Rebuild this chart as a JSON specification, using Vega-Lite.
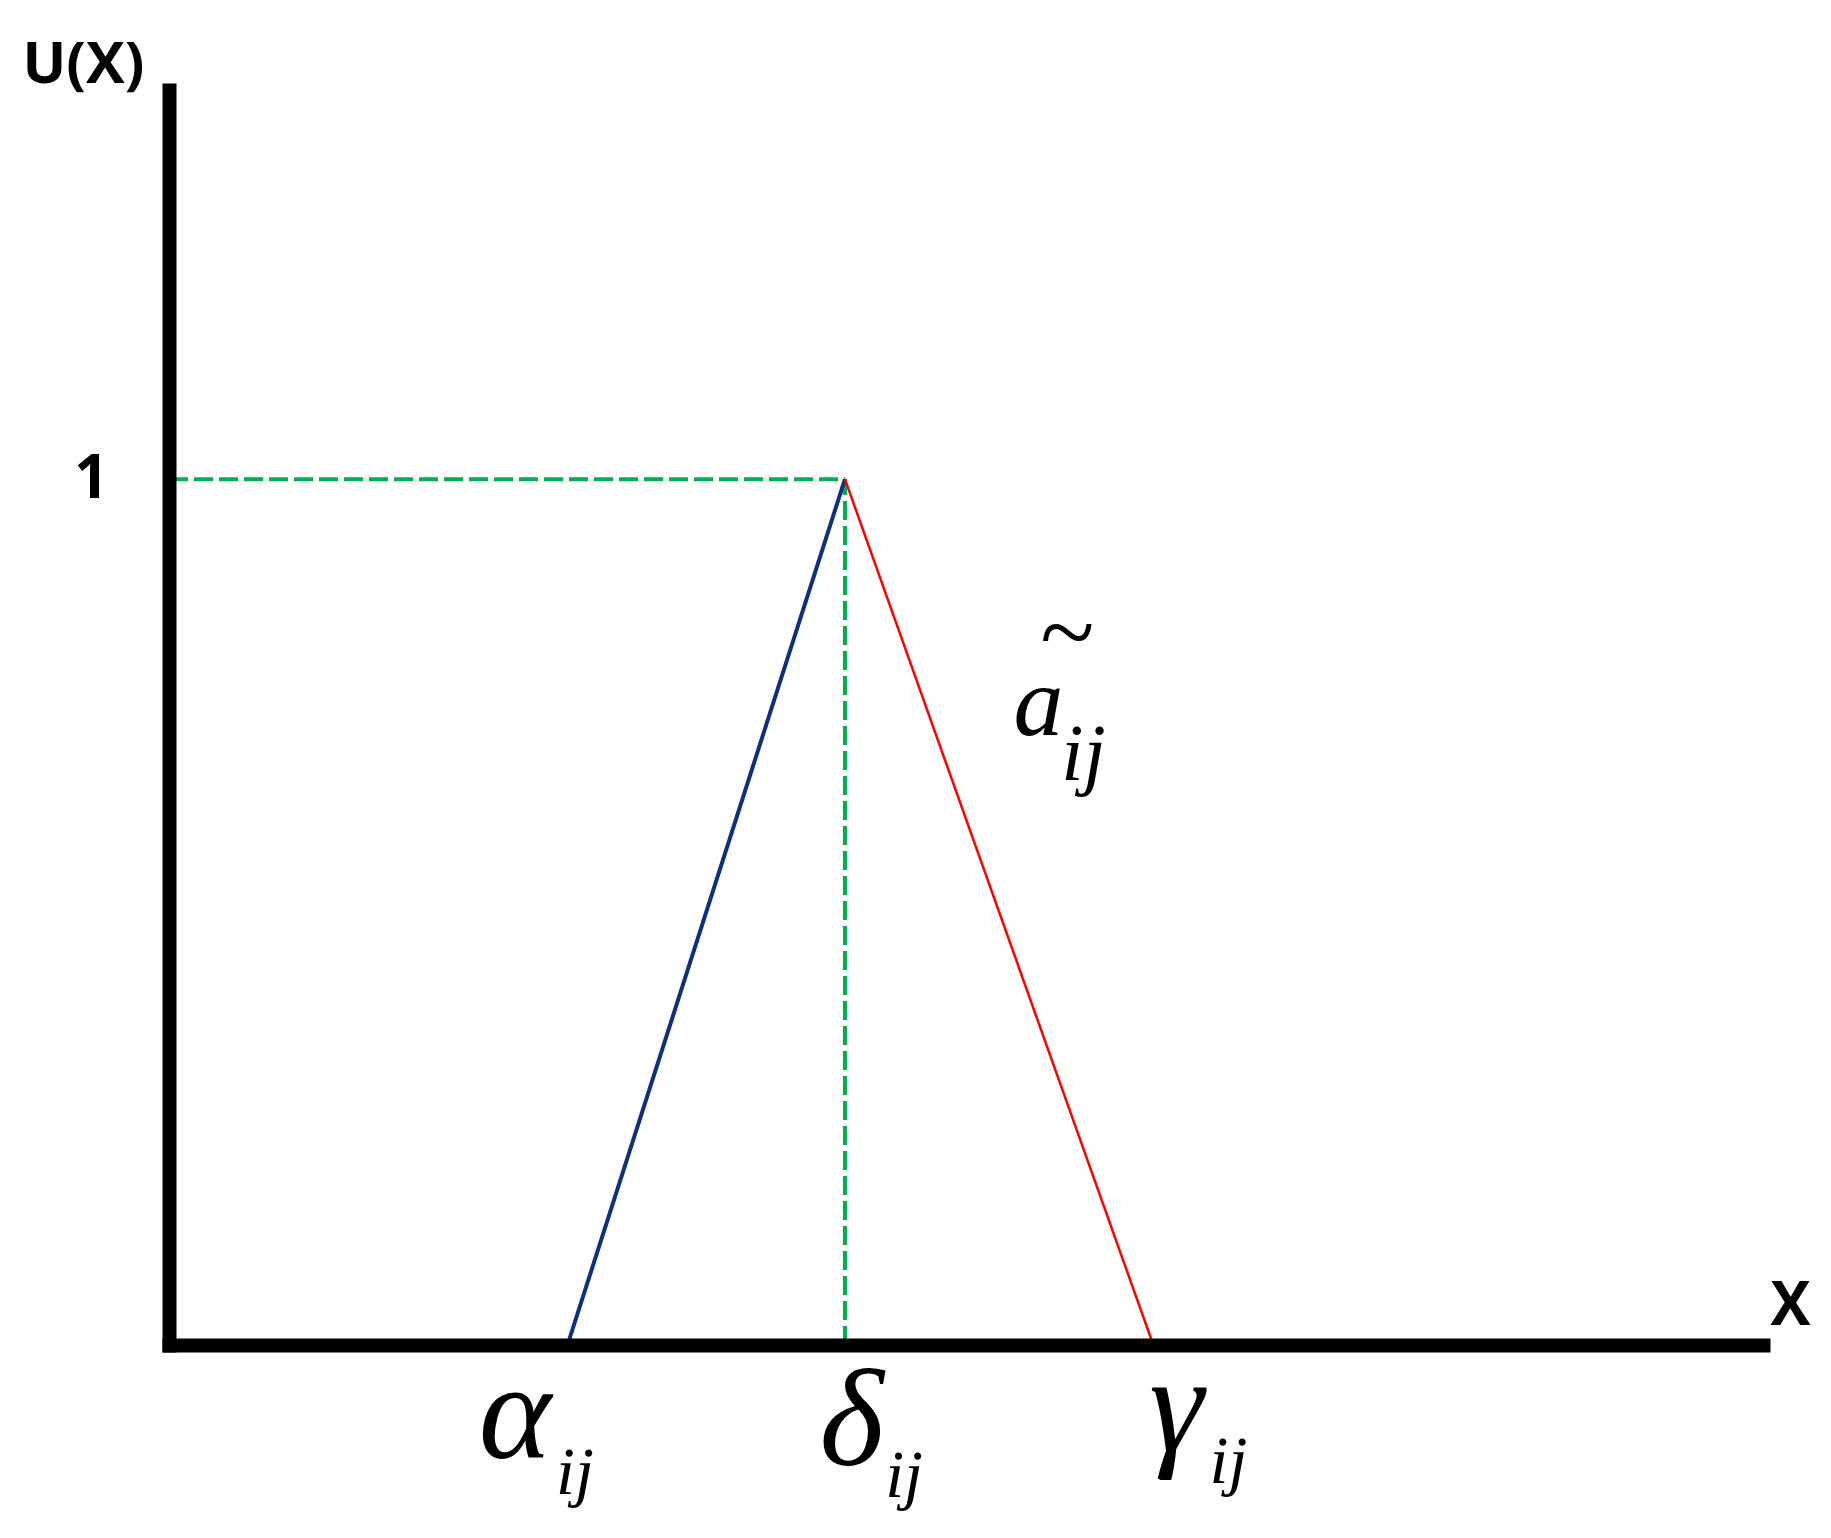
{
  "$schema": "https://vega.github.io/schema/vega-lite/v6.json",
  "autosize": {"type": "none"},
  "padding": {"left": 169, "top": 90, "right": 68, "bottom": 193},
  "width": 1594,
  "height": 1255,
  "background": "white",
  "config": {"view": {"stroke": null}},
  "datasets": {
    "blue": [
      {"x": 4.0, "u": 0},
      {"x": 6.785, "u": 1}
    ],
    "red": [
      {"x": 6.785, "u": 1},
      {"x": 9.88, "u": 0}
    ],
    "guides": [
      {"x": 0, "x2": 6.785, "u": 1, "u2": 1},
      {"x": 6.785, "x2": 6.785, "u": 0, "u2": 1}
    ],
    "mainLabels": [
      {"text": "α", "x": 3.473, "u": -0.130},
      {"text": "δ", "x": 6.851, "u": -0.139},
      {"text": "γ", "x": 10.113, "u": -0.123}
    ],
    "subLabels": [
      {"text": "ij", "x": 4.075, "u": -0.172},
      {"text": "ij", "x": 7.378, "u": -0.176},
      {"text": "ij", "x": 10.635, "u": -0.159}
    ],
    "fuzzyName": [
      {"text": "a", "x": 8.728, "u": 0.704}
    ],
    "fuzzySub": [
      {"text": "ij", "x": 9.179, "u": 0.653}
    ],
    "tilde": [
      {"text": "~", "x": 9.004, "u": 0.785}
    ]
  },
  "layer": [
    {
      "data": {"name": "guides"},
      "mark": {"type": "rule", "color": "#00b050", "strokeWidth": 4, "strokeDash": [19, 6]},
      "encoding": {
        "x": {"field": "x", "type": "quantitative", "scale": {"domain": [0, 16], "nice": false, "zero": false},
          "axis": {"domain": true, "domainColor": "black", "domainWidth": 14, "domainCap": "square", "ticks": false, "labels": false, "grid": false,
            "title": "X", "titleFont": "Open Sans", "titleFontWeight": "bold", "titleFontSize": 60, "titleColor": "black",
            "titleAngle": 0, "titleAlign": "center", "titleBaseline": "alphabetic", "titleX": 1621, "titleY": -21, "zindex": 1}},
        "x2": {"field": "x2"},
        "y": {"field": "u", "type": "quantitative", "scale": {"domain": [0, 1.4495], "nice": false, "zero": false},
          "axis": {"values": [1], "format": ".0f", "domain": true, "domainColor": "black", "domainWidth": 14, "domainCap": "square", "ticks": false, "tickSize": 0, "grid": false,
            "labelFont": "Open Sans", "labelFontWeight": "bold", "labelFontSize": 60, "labelColor": "black", "labelPadding": 61,
            "title": "U(X)", "titleFont": "Open Sans", "titleFontWeight": "bold", "titleFontSize": 58, "titleColor": "black",
            "titleAngle": 0, "titleAlign": "left", "titleBaseline": "alphabetic", "titleX": -147, "titleY": -8, "zindex": 1}},
        "y2": {"field": "u2"}
      }
    },
    {
      "data": {"name": "blue"},
      "mark": {"type": "line", "color": "#10307a", "strokeWidth": 4},
      "encoding": {
        "x": {"field": "x", "type": "quantitative"},
        "y": {"field": "u", "type": "quantitative"}
      }
    },
    {
      "data": {"name": "red"},
      "mark": {"type": "line", "color": "#ff0000", "strokeWidth": 2.5},
      "encoding": {
        "x": {"field": "x", "type": "quantitative"},
        "y": {"field": "u", "type": "quantitative"}
      }
    },
    {
      "data": {"name": "mainLabels"},
      "mark": {"type": "text", "font": "Liberation Serif", "fontStyle": "italic", "fontSize": 138, "color": "black", "align": "center", "baseline": "alphabetic"},
      "encoding": {
        "x": {"field": "x", "type": "quantitative"},
        "y": {"field": "u", "type": "quantitative"},
        "text": {"field": "text"}
      }
    },
    {
      "data": {"name": "subLabels"},
      "mark": {"type": "text", "font": "Liberation Serif", "fontStyle": "italic", "fontSize": 68, "color": "black", "align": "center", "baseline": "alphabetic"},
      "encoding": {
        "x": {"field": "x", "type": "quantitative"},
        "y": {"field": "u", "type": "quantitative"},
        "text": {"field": "text"}
      }
    },
    {
      "data": {"name": "fuzzyName"},
      "mark": {"type": "text", "font": "Liberation Serif", "fontStyle": "italic", "fontSize": 100, "color": "black", "align": "center", "baseline": "alphabetic"},
      "encoding": {
        "x": {"field": "x", "type": "quantitative"},
        "y": {"field": "u", "type": "quantitative"},
        "text": {"field": "text"}
      }
    },
    {
      "data": {"name": "fuzzySub"},
      "mark": {"type": "text", "font": "Liberation Serif", "fontStyle": "italic", "fontSize": 80, "color": "black", "align": "center", "baseline": "alphabetic"},
      "encoding": {
        "x": {"field": "x", "type": "quantitative"},
        "y": {"field": "u", "type": "quantitative"},
        "text": {"field": "text"}
      }
    },
    {
      "data": {"name": "tilde"},
      "mark": {"type": "text", "font": "Liberation Serif", "fontStyle": "italic", "fontSize": 100, "color": "black", "align": "center", "baseline": "alphabetic"},
      "encoding": {
        "x": {"field": "x", "type": "quantitative"},
        "y": {"field": "u", "type": "quantitative"},
        "text": {"field": "text"}
      }
    }
  ]
}
